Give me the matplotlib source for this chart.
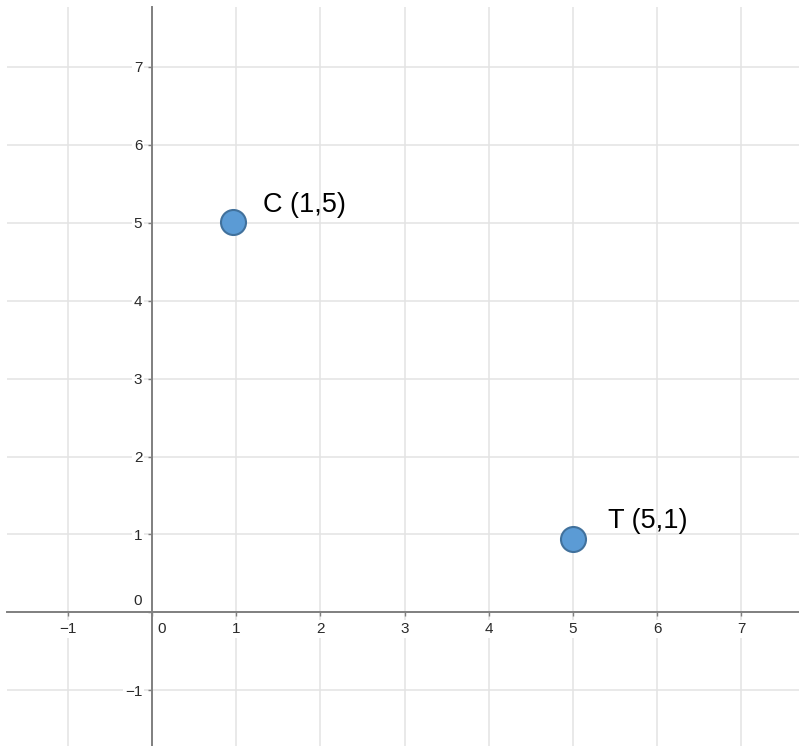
import matplotlib
matplotlib.use('Agg')
import matplotlib.pyplot as plt

plt.rcParams['font.family'] = ['Liberation Sans', 'DejaVu Sans']

# points (as placed in the picture) and their labels
pt_x = [0.96, 5.0]
pt_y = [5.01, 0.94]
pt_labels = ['C (1,5)', 'T (5,1)']
label_offsets = [(22, 7), (25, 8)]

xticks = [-1, 0, 1, 2, 3, 4, 5, 6, 7]
yticks = [-1, 0, 1, 2, 3, 4, 5, 6, 7]

fig = plt.figure(figsize=(7.99, 7.46), dpi=100)
ax = fig.add_axes([7/799, 0, 1 - 7/799, 1 - 7/746])
ax.set_xlim(-1.722, 7.684)
ax.set_ylim(-1.716, 7.77)

ax.spines['top'].set_visible(False)
ax.spines['right'].set_visible(False)
ax.spines['left'].set_position(('data', 0))
ax.spines['bottom'].set_position(('data', 0))
for s in ['left', 'bottom']:
    ax.spines[s].set_color('#808080')
    ax.spines[s].set_linewidth(1.4)
    ax.spines[s].set_zorder(3)

ax.set_xticks(xticks)
ax.set_yticks(yticks)
ax.tick_params(labelbottom=False, labelleft=False, length=3, width=1,
               color='#808080', direction='out')
ax.grid(True, color='#e3e3e3', linewidth=1.1, zorder=0)
ax.set_axisbelow(True)

tick_kw = dict(fontsize=11, color='#2a2a2a', zorder=2,
               bbox=dict(facecolor='white', edgecolor='none', pad=1.5))
for x in xticks:
    if x == 0:
        ax.annotate('0', (0, 0), xytext=(4, -7), textcoords='offset points',
                    ha='left', va='top', **tick_kw)
    else:
        ax.annotate(str(x).replace('-', '\u2212'), (x, 0), xytext=(0, -7),
                    textcoords='offset points', ha='center', va='top', **tick_kw)
for y in yticks:
    if y == 0:
        ax.annotate('0', (0, 0), xytext=(-7, 3), textcoords='offset points',
                    ha='right', va='bottom', **tick_kw)
    else:
        ax.annotate(str(y).replace('-', '\u2212'), (0, y), xytext=(-7, -1),
                    textcoords='offset points', ha='right', va='center', **tick_kw)

ax.plot(pt_x, pt_y, 'o', markersize=18, markerfacecolor='#5b9bd5',
        markeredgecolor='#41719c', markeredgewidth=1.5, zorder=5, clip_on=False)

for x, y, lab, off in zip(pt_x, pt_y, pt_labels, label_offsets):
    ax.annotate(lab, (x, y), xytext=off, textcoords='offset points',
                ha='left', va='baseline', fontsize=19.5, color='black', zorder=6)

fig.savefig('out.png', dpi=100)
